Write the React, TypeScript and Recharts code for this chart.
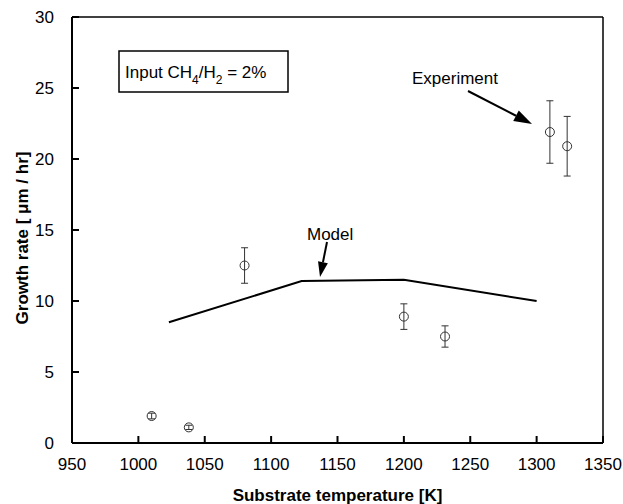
import { ScatterChart, Scatter, XAxis, YAxis, ErrorBar, ReferenceLine } from 'recharts';

// measured growth rate (circles with error bars)
const expTemp = [1010, 1038, 1080, 1200, 1231, 1310, 1323];
const expRate = [1.9, 1.1, 12.5, 8.9, 7.5, 21.9, 20.9];
const expErr = [0.2, 0.15, 1.25, 0.9, 0.75, 2.2, 2.1];

// model curve
const modelTemp = [1023, 1123, 1200, 1300];
const modelRate = [8.5, 11.4, 11.5, 10.0];

const xTicks = [950, 1000, 1050, 1100, 1150, 1200, 1250, 1300, 1350];
const yTicks = [0, 5, 10, 15, 20, 25, 30];

const FONT = '"Liberation Sans", Arial, Helvetica, sans-serif';

const expData = expTemp.map((t, i) => ({ t, rate: expRate[i], err: expErr[i] }));
const modelData = modelTemp.map((t, i) => ({ t, rate: modelRate[i] }));

const XTick = (props: any) => {
  const { x, y, payload } = props;
  return (
    <g>
      <line x1={x} x2={x} y1={y} y2={y - 7} stroke="#000" strokeWidth={2} />
      <text x={x} y={y + 21} dy="0.35em" textAnchor="middle" fontSize={17} fill="#000" fontFamily={FONT}>
        {payload.value}
      </text>
    </g>
  );
};

const YTick = (props: any) => {
  const { x, y, payload } = props;
  return (
    <g>
      <line x1={x} x2={x + 7} y1={y} y2={y} stroke="#000" strokeWidth={2} />
      <text x={x - 18} y={y} dy="0.35em" textAnchor="end" fontSize={17} fill="#000" fontFamily={FONT}>
        {payload.value}
      </text>
    </g>
  );
};

const YTitle = (props: any) => {
  const { viewBox } = props;
  const cx = viewBox.x + 22;
  const cy = viewBox.y + viewBox.height / 2 + 8;
  return (
    <text
      x={cx}
      y={cy}
      transform={`rotate(-90, ${cx}, ${cy})`}
      textAnchor="middle"
      dy="0.35em"
      fontSize={17}
      fontWeight="bold"
      fill="#000"
      fontFamily={FONT}
    >
      Growth rate [ μm / hr]
    </text>
  );
};

const Circle = (props: any) => (
  <circle cx={props.cx} cy={props.cy} r={4.5} fill="none" stroke="#333" strokeWidth={1} />
);

function Arrow({ x1, y1, x2, y2, len, half }: { x1: number; y1: number; x2: number; y2: number; len: number; half: number }) {
  const dx = x2 - x1;
  const dy = y2 - y1;
  const d = Math.hypot(dx, dy);
  const ux = dx / d;
  const uy = dy / d;
  const bx = x2 - ux * len;
  const by = y2 - uy * len;
  const pts = `${x2},${y2} ${bx - uy * half},${by + ux * half} ${bx + uy * half},${by - ux * half}`;
  return (
    <g>
      <line x1={x1} y1={y1} x2={bx} y2={by} stroke="#000" strokeWidth={2} />
      <polygon points={pts} fill="#000" />
    </g>
  );
}

export default function App() {
  return (
    <div style={{ position: 'absolute', left: 0, top: 0, width: 623, height: 504, background: '#fff' }}>
      <ScatterChart
        width={623}
        height={504}
        margin={{ top: 17, right: 20, bottom: 0, left: 0 }}
        style={{ fontFamily: FONT }}
      >
        <XAxis
          type="number"
          dataKey="t"
          domain={[950, 1350]}
          ticks={xTicks}
          height={61}
          tickSize={0}
          tickMargin={0}
          tickLine={false}
          axisLine={{ stroke: '#000', strokeWidth: 2 }}
          tick={<XTick />}
          label={{
            value: 'Substrate temperature [K]',
            position: 'insideBottom',
            offset: 3,
            fontSize: 17,
            fontWeight: 'bold',
            fill: '#000',
          }}
        />
        <YAxis
          type="number"
          dataKey="rate"
          domain={[0, 30]}
          ticks={yTicks}
          width={72}
          tickSize={0}
          tickMargin={0}
          tickLine={false}
          axisLine={{ stroke: '#000', strokeWidth: 2 }}
          tick={<YTick />}
          label={<YTitle />}
        />
        <ReferenceLine y={30} stroke="#000" strokeWidth={1.5} />
        <ReferenceLine x={1350} stroke="#000" strokeWidth={1.5} />
        <Scatter
          data={modelData}
          line={{ stroke: '#000', strokeWidth: 2 }}
          shape={() => <g />}
          isAnimationActive={false}
        />
        <Scatter data={expData} shape={<Circle />} isAnimationActive={false}>
          <ErrorBar dataKey="err" direction="y" width={3.5} stroke="#333" strokeWidth={1} isAnimationActive={false} />
        </Scatter>
      </ScatterChart>
      <svg
        width={623}
        height={504}
        style={{ position: 'absolute', left: 0, top: 0, pointerEvents: 'none' }}
        fontFamily={FONT}
      >
        <rect x={119} y={51} width={169} height={41} fill="none" stroke="#000" strokeWidth={1.5} />
        <text x={125} y={78} fontSize={17} fill="#000">
          Input CH
          <tspan dy={6} fontSize={12}>4</tspan>
          <tspan dy={-6}>/H</tspan>
          <tspan dy={6} fontSize={12}>2</tspan>
          <tspan dy={-6}> = 2%</tspan>
        </text>
        <text x={412} y={84} fontSize={17} fill="#000">Experiment</text>
        <Arrow x1={468} y1={91} x2={532} y2={124} len={18} half={6} />
        <text x={307} y={240} fontSize={17} fill="#000">Model</text>
        <Arrow x1={327} y1={242} x2={320} y2={277} len={15} half={5} />
      </svg>
    </div>
  );
}
